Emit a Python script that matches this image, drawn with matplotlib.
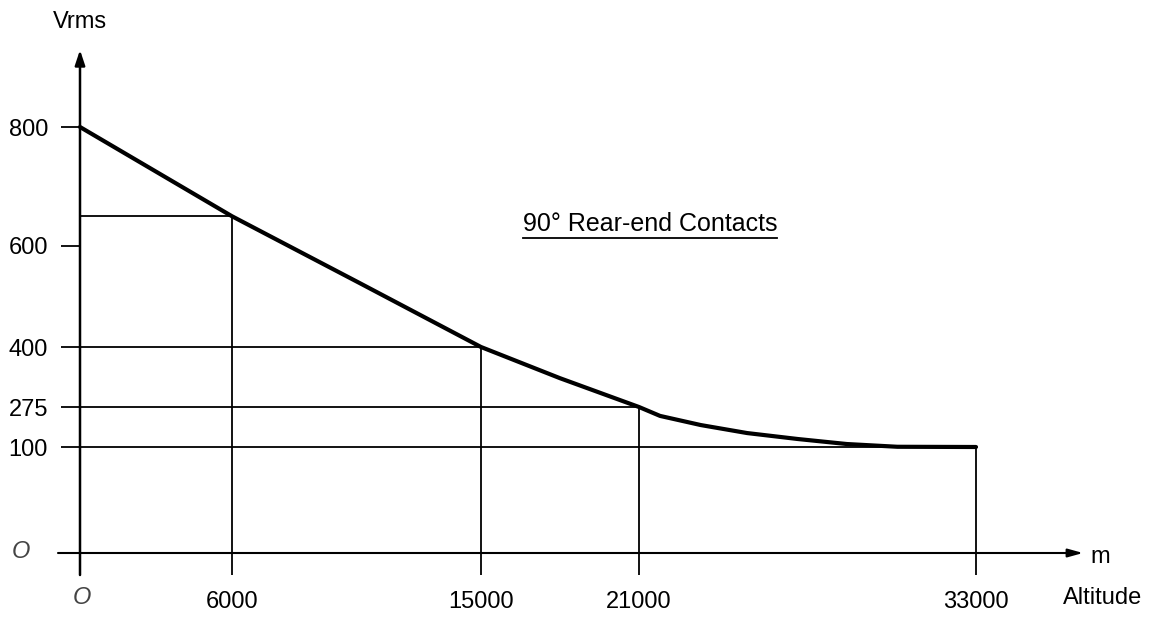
import numpy as np
import matplotlib
matplotlib.use('Agg')
import matplotlib.pyplot as plt
from matplotlib.lines import Line2D

plt.rcParams['font.family'] = ['Liberation Sans', 'DejaVu Sans']

# curve
altitude = [0, 6000, 10600, 15000, 18000, 21000, 21750, 23200, 24850, 26650, 28400, 30200, 33000]
vrms = [800, 650, 527, 400, 335, 275, 236, 196, 161, 135, 113, 101, 100]

# points with guide lines to the axes
marked_alt = [6000, 15000, 21000, 33000]
marked_vrms = [650, 400, 275, 100]

x_ticks = [0, 6000, 15000, 21000, 33000]
x_ticklabels = ['', '6000', '15000', '21000', '33000']
y_ticks = [0, 100, 275, 400, 600, 800]
y_ticklabels = ['', '100', '275', '400', '600', '800']

# the drawing is schematic: axis spacing is not linear
x_frac = np.array([0, 152, 401, 559, 896]) / 896
y_frac = np.array([0, 106, 146, 206, 307, 426]) / 426

W, H = 1160, 617
fig = plt.figure(figsize=(W / 100, H / 100), dpi=100)
ax = fig.add_axes([80 / W, (H - 553) / H, 896 / W, 426 / H])

ax.set_xscale('function', functions=(lambda v: np.interp(v, x_ticks, x_frac),
                                     lambda f: np.interp(f, x_frac, x_ticks)))
ax.set_yscale('function', functions=(lambda v: np.interp(v, y_ticks, y_frac),
                                     lambda f: np.interp(f, y_frac, y_ticks)))
ax.set_xlim(0, 33000)
ax.set_ylim(0, 800)

ax.plot(altitude, vrms, color='black', lw=3.0, solid_capstyle='round', solid_joinstyle='round',
        clip_on=False, zorder=3)
ax.vlines(marked_alt, 0, marked_vrms, color='black', lw=1.3, clip_on=False)
ax.hlines(marked_vrms, 0, marked_alt, color='black', lw=1.3, clip_on=False)

for s in ax.spines.values():
    s.set_visible(False)

# axes with arrow heads
ax.annotate('', xy=(0, (553 - 50) / 426), xytext=(0, -22 / 426), xycoords='axes fraction',
            arrowprops=dict(arrowstyle='-|>,head_length=0.9,head_width=0.3', lw=1.8,
                            color='black', shrinkA=0, shrinkB=0))
ax.annotate('', xy=((1083 - 80) / 896, 0), xytext=(-22 / 896, 0), xycoords='axes fraction',
            arrowprops=dict(arrowstyle='-|>,head_length=0.9,head_width=0.25', lw=1.5,
                            color='black', shrinkA=0, shrinkB=0))

ax.set_xticks(x_ticks)
ax.set_xticklabels(x_ticklabels)
ax.set_yticks(y_ticks)
ax.set_yticklabels(y_ticklabels)
ax.tick_params(axis='x', length=16, width=1.3, pad=11, labelsize=17)
ax.tick_params(axis='y', length=14, width=1.3, pad=9, labelsize=17)
ax.minorticks_off()

def px(x, y):
    return x / W, 1 - y / H

fig.text(*px(80, 22), 'Vrms', fontsize=17, ha='center', va='center')
fig.text(*px(1100, 557), 'm', fontsize=17, ha='center', va='center')
fig.text(*px(1103, 598), 'Altitude', fontsize=17, ha='center', va='center')
fig.text(*px(21, 552), 'O', fontsize=17, ha='center', va='center', style='italic', color='#444444')
fig.text(*px(82, 597), 'O', fontsize=17, ha='center', va='center', style='italic', color='#444444')

title = fig.text(*px(650, 224), '90° Rear-end Contacts', fontsize=18, ha='center', va='center')
fig.canvas.draw()
bb = title.get_window_extent()
uy = (H - 238) / H
fig.add_artist(Line2D([bb.x0 / W, bb.x1 / W], [uy, uy], color='black', lw=1.3))

fig.savefig('out.png', dpi=100)
